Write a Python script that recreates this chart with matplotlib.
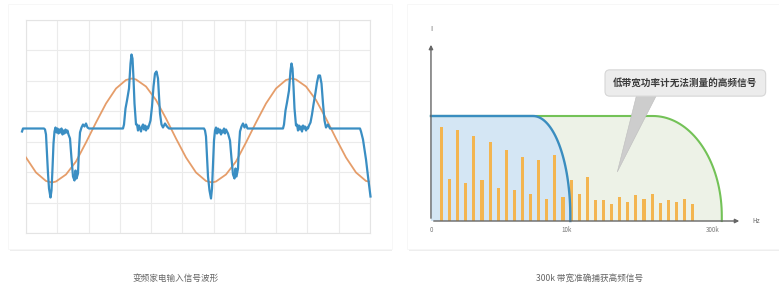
import matplotlib
matplotlib.use("Agg")
import matplotlib.pyplot as plt
import numpy as np
from matplotlib.patches import Rectangle, Polygon

plt.rcParams['font.family'] = ['Noto Sans CJK SC', 'DejaVu Sans']

# ---------------- data: left panel (time-domain waveform) ----------------
sine_points = [(0, -29), (10, -44), (20, -52.5), (26, -54), (30, -53), (40, -46), (50, -33),
               (60, -14), (70, 6), (80, 25), (90, 40), (100, 48.5), (106, 50), (110, 49),
               (120, 42), (130, 28.5), (140, 10), (150, -10), (160, -29), (170, -44),
               (180, -52.5), (186, -54), (190, -53), (200, -46), (210, -33), (220, -14),
               (230, 6), (240, 25), (250, 40), (260, 48.5), (266, 50), (270, 49), (280, 42),
               (290, 28.5), (300, 10), (310, -10), (320, -29), (330, -44), (340, -52.5),
               (343, -53)]

signal_points = [
    (-4, -3), (-3, 0), (18, 0), (19, -1), (20, -6), (21, -25), (22, -45), (23, -60),
    (24.5, -69), (25.5, -62), (26.5, -40), (27.5, -15), (28.5, -3), (29.5, 1), (30.5, -4),
    (31.5, 0), (32.5, -5), (33.5, -1), (34.5, -4), (35.5, 0), (36.5, -6), (37.5, -2),
    (38.5, -5), (39.5, -1), (40.5, -4), (41.5, -2), (42.5, -6), (44, -10), (45.5, -30),
    (47, -48), (48.5, -52), (49.5, -42), (50.5, -50), (52, -45), (53, -20), (54, -4),
    (55.5, 1), (57, 4), (58.5, 2), (60, 5), (61.5, 1), (63, 0), (97, 0), (98, 4),
    (99.5, 20), (101, 28), (103, 40), (104.5, 65), (105.5, 74), (106.5, 70), (107.5, 50),
    (108.5, 25), (110, 4), (111, 4), (112, -2), (113, 3), (114, 0), (115, -3), (116, 2),
    (117, 4), (118, -1), (119, 3), (120, -2), (121, 2), (122, 0), (123, 3), (124.5, 8),
    (126, 22), (127.5, 42), (129, 55), (130.5, 57), (132, 50), (133, 32), (134, 15),
    (135.5, 4), (137, 1), (139, 5), (141, 2), (143, 0),
    (178, 0), (179, -2), (180, -8), (181, -28), (182, -48), (183.5, -62), (185, -70),
    (186, -60), (187, -35), (188, -12), (189, -2), (190, 1), (191, -5), (192, 0),
    (193, -4), (194, -1), (195, -6), (196, -2), (197, -4), (198, 0), (199, -5), (200, -1),
    (201, -3), (202, -5), (204, -12), (205.5, -30), (207, -46), (208.5, -50), (209.5, -40),
    (210.5, -48), (212, -40), (213, -18), (214, -3), (215.5, 2), (217, 5), (218.5, 1),
    (220, 4), (221.5, 0), (223, 0), (257, 0), (258, 4), (259.5, 18), (261, 26), (263, 38),
    (264.5, 58), (265.5, 65), (266.5, 60), (267.5, 42), (268.5, 20), (270, 3), (271, 4),
    (272, -2), (273, 3), (274, -1), (275, 2), (276, -3), (277, 3), (278, 0), (279, 2),
    (280, -2), (281, 1), (282, 0), (283, 3), (284.5, 6), (286, 14), (287.5, 24),
    (289.5, 36), (291, 46), (292.5, 53), (294, 53), (295.5, 45), (297, 25), (298.5, 8),
    (300, 1), (302, 4), (304, 0), (334, 0), (335, -3), (337, -11), (340, -31),
    (342, -48), (344.5, -68)]

# ---------------- data: right panel (spectrum) ----------------
bar_heights = [282, 125, 272, 114, 254, 122, 237, 100, 212, 94, 192, 80, 182, 67, 197, 72,
               122, 80, 132, 62, 62, 52, 72, 57, 79, 67, 82, 54, 64, 57, 65, 50]
tick_labels = ["0", "10k", "300k"]
tick_pos = [0, 16.8, 34.8]
region_top = 315
blue_flat_end, blue_edge = 12.6, 17.2
green_flat_end, green_edge = 27.4, 35.9

callout_text = "低带宽功率计无法测量的高频信号"
caption_left = "变频家电输入信号波形"
caption_right = "300k 带宽准确捕获高频信号"

W, H = 779, 290
fig = plt.figure(figsize=(W / 100, H / 100), dpi=100)
fig.patch.set_facecolor('white')

def fx(px):
    return px / W

def fy(py):
    return 1 - py / H

# cards with soft shadow at the bottom
for x0, x1 in [(8, 392), (407, 779)]:
    fig.add_artist(Rectangle((fx(x0 + 2), fy(251)), fx(x1 - x0 - 2), 4 / H,
                             transform=fig.transFigure, fc='#EEEEEE', ec='none', zorder=0))
    fig.add_artist(Rectangle((fx(x0), fy(249)), fx(x1 - x0), (249 - 4) / H,
                             transform=fig.transFigure, fc='white', ec='#F6F6F6', lw=0.6, zorder=0))

# ---------------- left panel ----------------
axL = fig.add_axes([fx(26), fy(233), fx(344), 213 / H])
axL.set_xlim(0, 344)
axL.set_ylim(-104.5, 108.5)
axL.set_xticks(np.linspace(0, 344, 12))
axL.set_yticks(np.linspace(-104.5, 108.5, 8))
axL.grid(True, color='#EBEBEB', lw=0.8)
axL.tick_params(length=0, labelbottom=False, labelleft=False)
for s in axL.spines.values():
    s.set_color('#E4E4E4')
    s.set_linewidth(0.8)
st, sv = zip(*sine_points)
axL.plot(st, sv, color='#E3935A', lw=1.3, alpha=0.9, zorder=3)
gt, gv = zip(*signal_points)
axL.plot(gt, gv, color='#3A8EC3', lw=1.6, zorder=4, clip_on=False,
         solid_joinstyle='round')

# ---------------- right panel ----------------
axR = fig.add_axes([fx(421), fy(240), fx(770 - 421), (240 - 25) / H])
axR.set_xlim(-1.23, 41.85)
axR.set_ylim(-57, 588)
axR.axis('off')

def region(flat_end, edge, ry=300):
    th = np.linspace(np.pi / 2, 0, 40)
    rx = edge - flat_end
    xs = [0, 0] + list(flat_end + rx * np.cos(th)) + [edge]
    ys = [0, region_top] + list(region_top - ry + ry * np.sin(th)) + [0]
    return np.array(xs), np.array(ys)

gx, gy = region(green_flat_end, green_edge)
axR.fill(gx, gy, color='#EDF2E7', zorder=1, lw=0)
bx, by = region(blue_flat_end, blue_edge)
axR.fill(bx, by, color='#D4E6F4', zorder=2, lw=0)

bar_x = [1.3 + i for i in range(len(bar_heights))]
axR.bar(bar_x, bar_heights, width=0.38, color='#F3B550', zorder=3)

axR.plot(gx[1:], gy[1:], color='#73C257', lw=1.5, zorder=4)
axR.plot(bx[1:], by[1:], color='#3A8DBF', lw=1.7, zorder=5)

# axes arrows
axR.annotate('', xy=(38.4, 0), xytext=(0, 0),
             arrowprops=dict(arrowstyle='-|>', color='#666666', lw=1.0, mutation_scale=6),
             zorder=6)
axR.annotate('', xy=(0, 537), xytext=(0, 0),
             arrowprops=dict(arrowstyle='-|>', color='#666666', lw=1.0, mutation_scale=6),
             zorder=6)
axR.text(0, 575, "I", ha='center', va='center', fontsize=5, color='#666666')
axR.text(39.7, 0, "Hz", ha='left', va='center', fontsize=4.5, color='#666666')
for p, lab in zip(tick_pos, tick_labels):
    axR.text(p, -27, lab, ha='center', va='center', fontsize=4.5, color='#777777')

# callout
axR.add_patch(Polygon([(25.4, 380), (27.9, 380), (23.0, 147)], closed=True,
                      fc='#CDCDCD', ec='#BDBDBD', lw=0.4, zorder=6))
axR.text(31.4, 414, callout_text, ha='center', va='center', fontsize=6.9,
         fontweight='bold', color='#3A3A3A', zorder=7,
         bbox=dict(boxstyle='round,pad=0.85,rounding_size=0.5', fc='#ECECEC',
                   ec='#D6D6D6', lw=0.8))

# captions
fig.text(fx(176), fy(278), caption_left, ha='center', va='center', fontsize=6.2, color='#666666')
fig.text(fx(590), fy(278), caption_right, ha='center', va='center', fontsize=6.2, color='#666666')

fig.savefig('out.png', dpi=100, facecolor='white')
